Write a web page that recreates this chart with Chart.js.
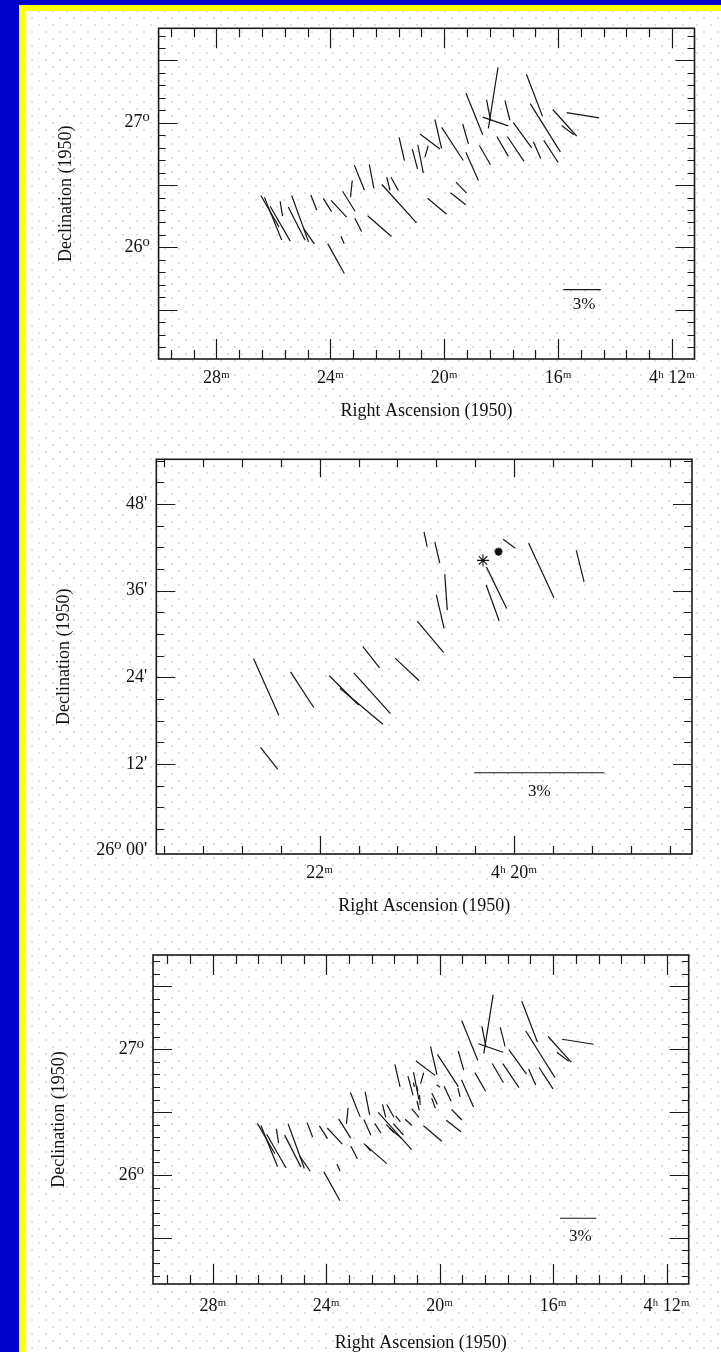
<!DOCTYPE html>
<html>
<head>
<meta charset="utf-8">
<script src="https://cdn.jsdelivr.net/npm/chart.js@4.4.1/dist/chart.umd.min.js"></script>
<style>
html, body { margin: 0; padding: 0; overflow: hidden; }
body { width: 721px; height: 1352px; background: #0000cc; position: relative; }
#sheet {
  position: absolute; left: 19px; top: 5px; width: 720px; height: 1370px;
  box-sizing: border-box; border: 6px solid #ffff00;
  background-color: #fff;
  background-image: radial-gradient(circle, #e0e0e0 0.9px, transparent 1.4px),
                    radial-gradient(circle, #e0e0e0 0.9px, transparent 1.4px);
  background-size: 14px 14px;
  background-position: 0 0, 7px 7px;
}
canvas { position: absolute; }
</style>
</head>
<body>
<div id="sheet"></div>
<canvas id="wide" width="689" height="421" style="left:25px;top:11px"></canvas>
<canvas id="field" width="689" height="493" style="left:25px;top:432px"></canvas>
<canvas id="all" width="689" height="425" style="left:25px;top:935px"></canvas>
<script>
Chart.defaults.font.family = '"Liberation Serif", "DejaVu Serif", serif';
Chart.defaults.color = '#111';

// survey field: RA (minutes past 4h), Dec (deg), polarization (%), position angle (deg E of N)
var wideRa = [26.12, 26.01, 25.76, 25.72, 25.06, 25.18, 24.75, 24.58, 24.10, 23.70,
  23.35, 23.26, 22.98, 22.55, 23.02, 22.27, 23.80, 23.57, 21.58, 21.96,
  21.74, 21.49, 21.03, 20.83, 20.62, 20.50, 20.25,
  18.28, 18.20, 18.44, 18.94, 17.78, 16.83, 16.45, 15.77, 15.66, 15.13,
  17.25, 17.95, 17.49, 16.74, 16.25, 18.57, 19.25, 19.02, 19.71, 20.21,
  19.40, 19.51]
var wideDec = [26.29, 26.23, 26.19, 26.31, 26.23, 26.19, 26.09, 26.36, 26.34, 26.31,
  26.37, 26.47, 26.56, 26.57, 26.18, 26.17, 25.91, 26.06, 26.35, 26.51,
  26.51, 26.79, 26.71, 26.71, 26.77, 26.85, 26.33,
  27.20, 27.01, 27.10, 27.07, 27.10, 27.22, 26.96, 27.00, 26.94, 27.06,
  26.90, 26.81, 26.79, 26.78, 26.77, 26.74, 26.91, 26.65, 26.83, 26.91,
  26.48, 26.39]
var widePol = [2.90, 3.67, 3.21, 1.21, 3.94, 2.97, 1.52, 1.28, 1.25, 1.82,
  1.88, 1.33, 2.14, 1.95, 1.19, 2.52, 2.73, 0.64, 4.13, 1.09,
  1.21, 1.90, 1.65, 2.30, 0.94, 1.99, 1.98,
  4.94, 2.16, 1.75, 3.57, 1.64, 3.60, 4.55, 2.85, 1.23, 2.63,
  2.49, 1.84, 2.39, 1.45, 2.11, 1.78, 1.65, 2.46, 3.16, 2.37,
  1.22, 1.55]
var widePa = [30, 22, 30, 9, 20, 27, 35, 21, 32, 43,
  32, 174, 22, 11, 27, 49, 29, 24, 42, 14,
  29, 13, 15, 11, 164, 53, 50,
  171, 71, 11, 22, 14, 21, 32, 42, 53, 81,
  36, 30, 34, 24, 33, 30, 16, 24, 33, 13,
  44, 52]

// close-up field near 4h20m: Dec in arcmin past 26 deg
var fieldRa = [22.55, 22.18, 21.75, 21.57, 21.46, 21.47, 21.10, 20.86, 20.76, 20.70,
  20.91, 20.79, 20.18, 20.22, 20.05, 19.72, 19.32, 22.52]
var fieldDecMin = [22.7, 22.3, 22.2, 20.0, 21.8, 26.8, 25.1, 29.6, 33.1, 35.8,
  43.1, 41.3, 36.4, 34.3, 42.5, 38.8, 39.4, 12.8]
var fieldPol = [1.43, 0.98, 0.95, 1.29, 1.26, 0.63, 0.76, 0.95, 0.79, 0.83,
  0.35, 0.50, 1.06, 0.88, 0.35, 1.38, 0.75, 0.64]
var fieldPa = [24, 33, 45, 50, 42, 38, 47, 40, 13, 4,
  12, 13, 26, 20, 53, 25, 14, 38]
var starRa = [20.32, 20.16]
var starDecMin = [40.2, 41.4]

// tick labels
var raLabelValues = [28, 24, 20, 16, 12]
var raLabels = ['28ᵐ', '24ᵐ', '20ᵐ', '16ᵐ', '4ʰ 12ᵐ']
var decLabelValues = [27, 26]
var decLabels = ['27⁰', '26⁰']
var fieldRaLabelValues = [22, 20]
var fieldRaLabels = ['22ᵐ', '4ʰ 20ᵐ']
var fieldDecLabelValues = [48, 36, 24, 12, 0]
var fieldDecLabels = ["48'", "36'", "24'", "12'", "26⁰ 00'"]

function steps(a, b, s) {
  var out = []
  for (var v = a; v <= b + 1e-9; v += s) out.push(Math.round(v * 100) / 100)
  return out
}

const framePlugin = {
  id: 'frame',
  afterDatasetsDraw(chart, args, o) {
    const ctx = chart.ctx, a = chart.chartArea, x = chart.scales.x, y = chart.scales.y;
    ctx.save();
    ctx.strokeStyle = '#1a1a1a';
    ctx.lineWidth = 1.2;
    ctx.beginPath();
    o.xTicks.forEach(v => {
      const p = Math.round(x.getPixelForValue(v)) + 0.5;
      const len = o.xMajor.includes(v) ? o.xLen[0] : o.xLen[1];
      ctx.moveTo(p, a.bottom); ctx.lineTo(p, a.bottom - len);
      ctx.moveTo(p, a.top); ctx.lineTo(p, a.top + len);
    });
    o.yTicks.forEach(v => {
      const p = Math.round(y.getPixelForValue(v)) + 0.5;
      const len = o.yMajor.includes(v) ? o.yLen[0] : o.yLen[1];
      ctx.moveTo(a.left, p); ctx.lineTo(a.left + len, p);
      ctx.moveTo(a.right, p); ctx.lineTo(a.right - len, p);
    });
    ctx.stroke();
    ctx.lineWidth = 1.6;
    ctx.strokeRect(a.left, a.top, a.width, a.height);
    ctx.fillStyle = '#111';
    ctx.font = '17px "Liberation Serif", serif';
    ctx.textAlign = 'center';
    ctx.textBaseline = 'middle';
    ctx.fillText('3%', x.getPixelForValue(o.barText[0]), y.getPixelForValue(o.barText[1]));
    ctx.restore();
  }
};

function drawMap(id, m) {
  const pctPx = chart => Math.abs(chart.scales.x.getPixelForValue(m.bar[0]) -
    chart.scales.x.getPixelForValue(m.bar[1])) / 3;
  const datasets = [{
    type: 'scatter',
    data: m.ra.map((r, i) => ({x: r, y: m.dec[i]})),
    pointStyle: 'line',
    pointRadius: c => m.pol[c.dataIndex] * pctPx(c.chart) / 2,
    pointHoverRadius: c => m.pol[c.dataIndex] * pctPx(c.chart) / 2,
    pointRotation: c => 90 - m.pa[c.dataIndex],
    pointBorderColor: '#151515',
    pointBorderWidth: 1.2,
    pointHoverBorderWidth: 1.2
  }, {
    type: 'line',
    data: [{x: m.bar[0], y: m.barDec}, {x: m.bar[1], y: m.barDec}],
    borderColor: '#151515',
    borderWidth: 1.2,
    pointRadius: 0
  }];
  if (m.stars) {
    datasets.push({
      type: 'scatter',
      data: m.stars.ra.map((r, i) => ({x: r, y: m.stars.dec[i]})),
      pointStyle: 'star',
      pointRadius: [6, 4],
      pointBorderWidth: [1.1, 2.2],
      pointBorderColor: '#111'
    });
  }
  const tickFont = {size: 18};
  const titleFont = {size: 18};
  return new Chart(document.getElementById(id).getContext('2d'), {
    type: 'scatter',
    data: {datasets: datasets},
    options: {
      responsive: false,
      animation: false,
      devicePixelRatio: 1,
      layout: {padding: m.pad},
      plugins: {
        legend: {display: false},
        tooltip: {enabled: false},
        frame: {
          xTicks: m.xTicks, xMajor: m.xMajor, xLen: m.xLen,
          yTicks: m.yTicks, yMajor: m.yMajor, yLen: m.yLen,
          barText: m.barText
        }
      },
      scales: {
        x: {
          type: 'linear',
          reverse: true,
          min: m.xRange[0],
          max: m.xRange[1],
          grid: {display: false, drawTicks: false},
          border: {display: false},
          ticks: {
            font: tickFont, color: '#111', padding: m.xPadding,
            autoSkip: false, maxRotation: 0, minRotation: 0,
            callback: (v, i) => m.xLabels[i]
          },
          afterBuildTicks: s => { s.ticks = m.xLabelValues.map(v => ({value: v})) },
          afterFit: s => { s.height = m.xHeight; s.paddingLeft = 0; s.paddingRight = 0 },
          title: {display: true, text: 'Right Ascension (1950)', font: titleFont, color: '#111',
            padding: {top: 0, bottom: m.xTitlePad}}
        },
        y: {
          type: 'linear',
          min: m.yRange[0],
          max: m.yRange[1],
          grid: {display: false, drawTicks: false},
          border: {display: false},
          ticks: {
            font: tickFont, color: '#111', padding: 9, autoSkip: false,
            callback: (v, i) => m.yLabels[i]
          },
          afterBuildTicks: s => { s.ticks = m.yLabelValues.map(v => ({value: v})) },
          afterFit: s => { s.width = m.yWidth; s.paddingTop = 0; s.paddingBottom = 0 },
          title: {display: true, text: 'Declination (1950)', font: titleFont, color: '#111',
            padding: {top: m.yTitlePad, bottom: 0}}
        }
      }
    },
    plugins: [framePlugin]
  });
}

var raTicks = steps(12, 29.6, 0.8)
var decTicks = steps(25.2, 27.7, 0.1)
var decMajor = [25.5, 26, 26.5, 27, 27.5]

drawMap('wide', {
  ra: wideRa, dec: wideDec, pol: widePol, pa: widePa,
  bar: [15.82, 14.50], barDec: 25.66, barText: [15.09, 25.545],
  xRange: [11.21, 30.03], yRange: [25.104, 27.758],
  xLabelValues: raLabelValues, xLabels: raLabels,
  yLabelValues: decLabelValues, yLabels: decLabels,
  xTicks: raTicks, xMajor: raLabelValues, xLen: [20, 9],
  yTicks: decTicks, yMajor: decMajor, yLen: [19, 7],
  pad: {left: 0, top: 17.3, right: 19.5, bottom: 0},
  yWidth: 133.6, xHeight: 73, xPadding: 8.5, xTitlePad: 9.5, yTitlePad: 30.9
});

drawMap('field', {
  ra: fieldRa, dec: fieldDecMin, pol: fieldPol, pa: fieldPa,
  stars: {ra: starRa, dec: starDecMin},
  bar: [20.41, 19.07], barDec: 10.8, barText: [19.74, 8.2],
  xRange: [18.17, 23.68], yRange: [-0.45, 54.19],
  xLabelValues: fieldRaLabelValues, xLabels: fieldRaLabels,
  yLabelValues: fieldDecLabelValues, yLabels: fieldDecLabels,
  xTicks: steps(18.4, 23.6, 0.4), xMajor: fieldRaLabelValues, xLen: [18, 8],
  yTicks: steps(3, 54, 3), yMajor: [12, 24, 36, 48], yLen: [19, 8],
  pad: {left: 0, top: 27.3, right: 22, bottom: 0},
  yWidth: 131.3, xHeight: 71, xPadding: 8.5, xTitlePad: 7.5, yTitlePad: 28.6
});

// combined map: survey + close-up field
drawMap('all', {
  ra: wideRa.concat(fieldRa),
  dec: wideDec.concat(fieldDecMin.map(d => 26 + d / 60)),
  pol: widePol.concat(fieldPol),
  pa: widePa.concat(fieldPa),
  bar: [15.76, 14.48], barDec: 25.656, barText: [15.04, 25.512],
  xRange: [11.22, 30.11], yRange: [25.133, 27.75],
  xLabelValues: raLabelValues, xLabels: raLabels,
  yLabelValues: decLabelValues, yLabels: decLabels,
  xTicks: raTicks, xMajor: raLabelValues, xLen: [20, 9],
  yTicks: decTicks, yMajor: decMajor, yLen: [19, 7],
  pad: {left: 0, top: 20, right: 25.3, bottom: 0},
  yWidth: 128, xHeight: 76, xPadding: 11.9, xTitlePad: 5.9, yTitlePad: 23.2
});
</script>
</body>
</html>
